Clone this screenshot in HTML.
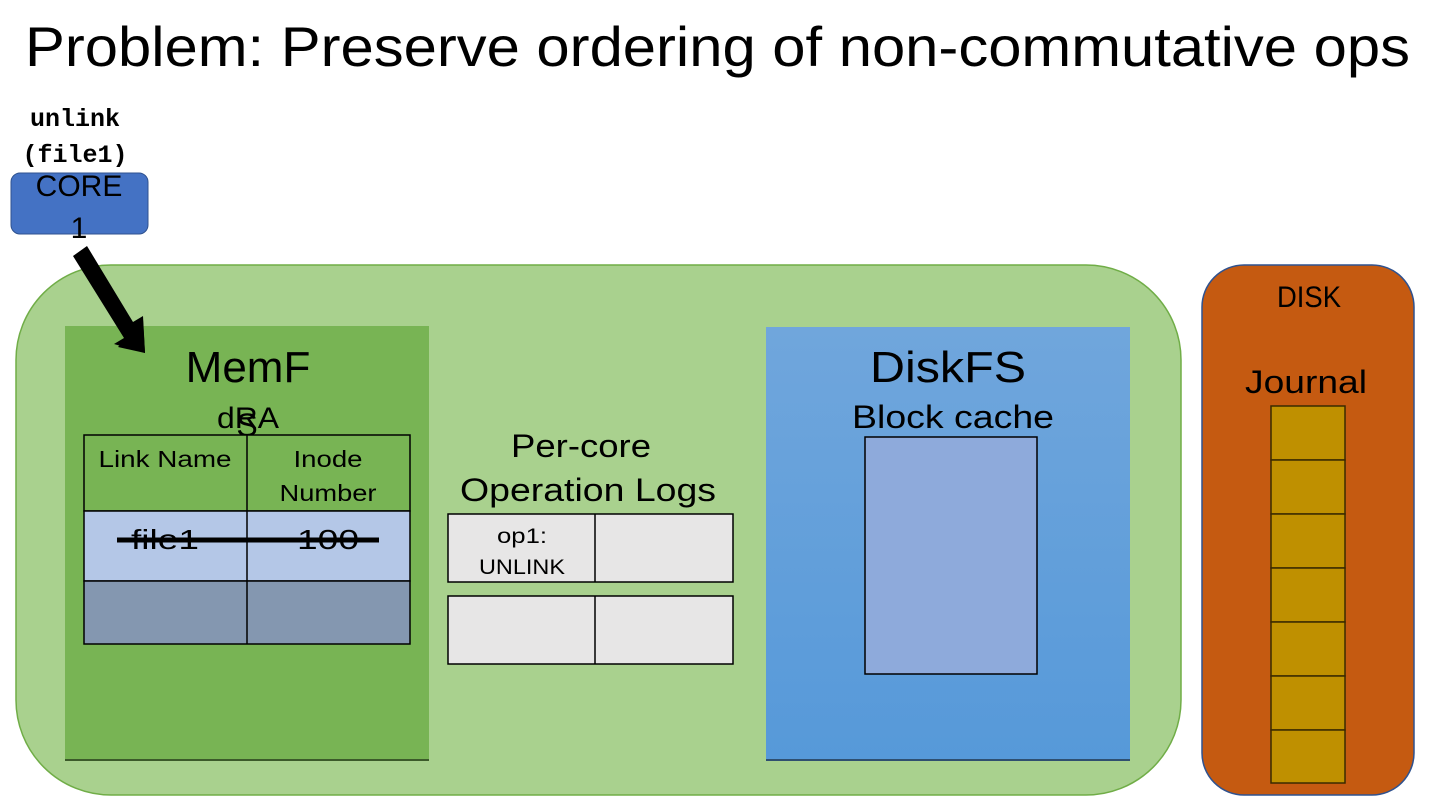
<!DOCTYPE html>
<html><head><meta charset="utf-8"><style>
html,body{margin:0;padding:0;background:#fff;}
svg{display:block;}
text{font-family:"Liberation Sans",sans-serif;fill:#000;}
.m{font-family:"Liberation Mono",monospace;font-weight:bold;}
</style></head><body>
<svg width="1440" height="810" viewBox="0 0 1440 810" xmlns="http://www.w3.org/2000/svg">
<defs>
<linearGradient id="bl" x1="0" y1="0" x2="0" y2="1">
<stop offset="0" stop-color="#70a6dc"/><stop offset="1" stop-color="#5699d9"/>
</linearGradient>
</defs>
<text x="25" y="66" font-size="56" textLength="1385" lengthAdjust="spacingAndGlyphs">Problem: Preserve ordering of non-commutative ops</text>

<text class="m" x="75" y="126" font-size="25" text-anchor="middle">unlink</text>
<text class="m" x="75" y="162" font-size="25" text-anchor="middle">(file1)</text>
<rect x="11" y="173" width="137" height="61" rx="9" fill="#4472c4" stroke="#2f528f" stroke-width="1"/>
<text x="79" y="196" font-size="30" text-anchor="middle">CORE</text>
<text x="79" y="238" font-size="30" text-anchor="middle">1</text>

<rect x="16" y="265" width="1165" height="530" rx="95" fill="#a9d18e" stroke="#70ad47" stroke-width="1.5"/>

<rect x="65" y="326" width="364" height="434" fill="#78b454"/>
<line x1="65" y1="760" x2="429" y2="760" stroke="#3c5a2a" stroke-width="2"/>

<rect x="766" y="327" width="364" height="433" fill="url(#bl)"/>
<line x1="766" y1="760" x2="1130" y2="760" stroke="#2f4f70" stroke-width="2"/>

<!-- arrow -->
<polygon points="73,256 87,246 133,322 143,316 145,353 114,344 124,338 " fill="#000"/>
<polygon points="118,347 145,353 143,320" fill="#000"/>

<text x="248" y="382" font-size="44" text-anchor="middle">MemF</text>
<text x="248" y="428" font-size="30" text-anchor="middle" textLength="62" lengthAdjust="spacingAndGlyphs">dRA</text>
<text x="247" y="436" font-size="32" text-anchor="middle">S</text>

<!-- table -->
<rect x="84" y="435" width="326" height="76" fill="#78b454" stroke="#000" stroke-width="1.5"/>
<rect x="84" y="511" width="326" height="70" fill="#b4c7e7" stroke="#000" stroke-width="1.5"/>
<rect x="84" y="581" width="326" height="63" fill="#8497b0" stroke="#000" stroke-width="1.5"/>
<line x1="247" y1="435" x2="247" y2="644" stroke="#000" stroke-width="1.5"/>
<text x="165" y="467" font-size="23" text-anchor="middle" textLength="133" lengthAdjust="spacingAndGlyphs">Link Name</text>
<text x="328" y="467" font-size="23" text-anchor="middle" textLength="69" lengthAdjust="spacingAndGlyphs">Inode</text>
<text x="328" y="501" font-size="23" text-anchor="middle" textLength="97" lengthAdjust="spacingAndGlyphs">Number</text>
<text x="165" y="549" font-size="28" text-anchor="middle" textLength="68" lengthAdjust="spacingAndGlyphs">file1</text>
<text x="328" y="549" font-size="28" text-anchor="middle" textLength="62" lengthAdjust="spacingAndGlyphs">100</text>
<line x1="117" y1="540" x2="379" y2="540" stroke="#000" stroke-width="5"/>

<!-- op logs -->
<text x="581" y="457" font-size="32" text-anchor="middle" textLength="140" lengthAdjust="spacingAndGlyphs">Per-core</text>
<text x="588" y="501" font-size="32" text-anchor="middle" textLength="256" lengthAdjust="spacingAndGlyphs">Operation Logs</text>
<rect x="448" y="514" width="285" height="68" fill="#e7e6e6" stroke="#000" stroke-width="1.5"/>
<line x1="595" y1="514" x2="595" y2="582" stroke="#000" stroke-width="1.5"/>
<rect x="448" y="596" width="285" height="68" fill="#e7e6e6" stroke="#000" stroke-width="1.5"/>
<line x1="595" y1="596" x2="595" y2="664" stroke="#000" stroke-width="1.5"/>
<text x="522" y="543" font-size="21" text-anchor="middle" textLength="50" lengthAdjust="spacingAndGlyphs">op1:</text>
<text x="522" y="574" font-size="21" text-anchor="middle" textLength="86" lengthAdjust="spacingAndGlyphs">UNLINK</text>

<!-- DiskFS -->
<text x="948" y="382" font-size="44" text-anchor="middle" textLength="156" lengthAdjust="spacingAndGlyphs">DiskFS</text>
<text x="953" y="428" font-size="32" text-anchor="middle" textLength="202" lengthAdjust="spacingAndGlyphs">Block cache</text>
<rect x="865" y="437" width="172" height="237" fill="#8eaadb" stroke="#000" stroke-width="1.5"/>

<!-- DISK -->
<rect x="1202" y="265" width="212" height="530" rx="42" fill="#c55a11" stroke="#2f528f" stroke-width="1.5"/>
<text x="1309" y="307" font-size="30" text-anchor="middle" textLength="64" lengthAdjust="spacingAndGlyphs">DISK</text>
<text x="1306" y="393" font-size="32" text-anchor="middle" textLength="122" lengthAdjust="spacingAndGlyphs">Journal</text>
<g fill="#bf9000" stroke="#3a2a00" stroke-width="1.5">
<rect x="1271" y="406" width="74" height="54"/>
<rect x="1271" y="460" width="74" height="54"/>
<rect x="1271" y="514" width="74" height="54"/>
<rect x="1271" y="568" width="74" height="54"/>
<rect x="1271" y="622" width="74" height="54"/>
<rect x="1271" y="676" width="74" height="54"/>
<rect x="1271" y="730" width="74" height="53"/>
</g>
</svg>
</body></html>
